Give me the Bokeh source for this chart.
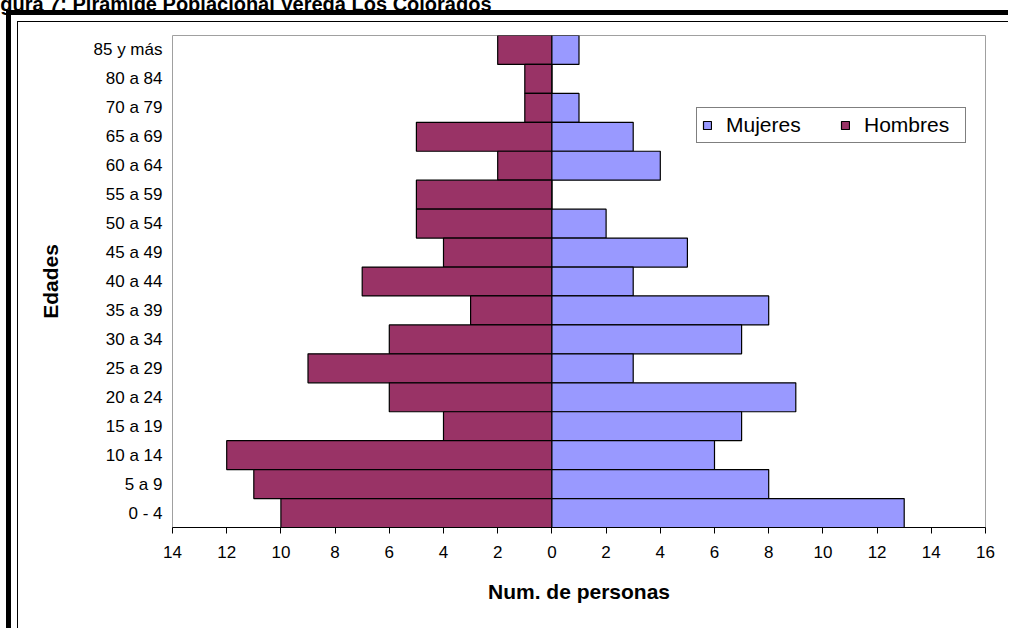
from bokeh.plotting import figure
from bokeh.models import (Range1d, FactorRange, FixedTicker, CustomJSTickFormatter,
                          Legend, LegendItem, ColumnDataSource)
from bokeh.embed import file_html
from bokeh.resources import INLINE

# ---- data (top to bottom as in the chart) ----
edades = ["85 y más", "80 a 84", "70 a 79", "65 a 69", "60 a 64", "55 a 59", "50 a 54",
          "45 a 49", "40 a 44", "35 a 39", "30 a 34", "25 a 29", "20 a 24", "15 a 19",
          "10 a 14", "5 a 9", "0 - 4"]
hombres = [2, 1, 1, 5, 2, 5, 5, 4, 7, 3, 6, 9, 6, 4, 12, 11, 10]
mujeres = [1, 0, 1, 3, 4, 0, 2, 5, 3, 8, 7, 3, 9, 7, 6, 8, 13]
x_ticks = [-14, -12, -10, -8, -6, -4, -2, 0, 2, 4, 6, 8, 10, 12, 14, 16]
titulo = "Figura 7: Pirámide Poblacional Vereda Los Colorados"
x_titulo = "Num. de personas"
y_titulo = "Edades"

FONT = "Liberation Sans"
C_H = "#993366"
C_M = "#9999FF"

src_h = ColumnDataSource(dict(age=edades, left=[-v for v in hombres], right=[0] * len(hombres)))
src_m = ColumnDataSource(dict(age=edades, left=[0] * len(mujeres), right=mujeres))

# decorative page frame (thick black frame + thin inner box) drawn as CSS backgrounds
frame_css = {
    "background-image": ",".join(["linear-gradient(#000,#000)"] * 4),
    "background-position": "6px 10px, 6px 10px, 17px 21px, 17px 21px",
    "background-size": "1002px 5px, 5px 618px, 1px 607px, 991px 1px",
    "background-repeat": "no-repeat",
}

p = figure(width=1008, height=628,
           y_range=FactorRange(factors=list(reversed(edades)), range_padding=0, factor_padding=0),
           x_range=Range1d(-14, 16),
           output_backend="svg", toolbar_location=None,
           min_border_left=172, min_border_right=23, min_border_top=35, min_border_bottom=101,
           styles=frame_css)

p.background_fill_color = "white"
p.border_fill_color = None
p.outline_line_color = "#a0a0a0"
p.outline_line_width = 1
p.xgrid.visible = False
p.ygrid.visible = False

rh = p.hbar(y="age", left="left", right="right", height=1.0, source=src_h,
            fill_color=C_H, line_color="black", line_width=1.2)
rm = p.hbar(y="age", left="left", right="right", height=1.0, source=src_m,
            fill_color=C_M, line_color="black", line_width=1.2)

xa = p.xaxis[0]
xa.ticker = FixedTicker(ticks=x_ticks)
xa.formatter = CustomJSTickFormatter(code="return Math.abs(tick).toString();")
xa.axis_line_color = "black"
xa.axis_line_width = 1
xa.major_tick_out = 6
xa.major_tick_in = 0
xa.minor_tick_out = 0
xa.minor_tick_in = 0
xa.major_tick_line_color = "black"
xa.major_label_standoff = 12
xa.major_label_text_font = FONT
xa.major_label_text_font_size = "17px"
xa.major_label_text_color = "black"
xa.axis_label = x_titulo
xa.axis_label_text_font = FONT
xa.axis_label_text_font_size = "21px"
xa.axis_label_text_font_style = "bold"
xa.axis_label_text_color = "black"
xa.axis_label_standoff = 19

ya = p.yaxis[0]
ya.axis_line_color = None
ya.major_tick_line_color = None
ya.minor_tick_line_color = None
ya.major_tick_out = 0
ya.major_tick_in = 0
ya.major_label_standoff = 10
ya.major_label_text_font = FONT
ya.major_label_text_font_size = "17px"
ya.major_label_text_color = "black"
ya.axis_label = y_titulo
ya.axis_label_text_font = FONT
ya.axis_label_text_font_size = "21px"
ya.axis_label_text_font_style = "bold"
ya.axis_label_text_color = "black"
ya.axis_label_standoff = 29

legend = Legend(items=[LegendItem(label="Mujeres", renderers=[rm]),
                       LegendItem(label="Hombres", renderers=[rh])],
                location=(524, 384), orientation="horizontal",
                border_line_color="black", border_line_width=1,
                padding=5, spacing=18, label_standoff=14, label_width=96,
                glyph_width=10, glyph_height=10, margin=0,
                label_text_font=FONT, label_text_font_size="21px",
                label_text_color="black", background_fill_color="white",
                background_fill_alpha=1)
p.add_layout(legend)

# figure caption: as in the source, only its lower part is inside the page
p.title.text = titulo + "\n \n "
p.title.text_font = FONT
p.title.text_font_size = "20px"
p.title.text_font_style = "bold"
p.title.text_color = "black"
p.title.align = "left"
p.title.vertical_align = "top"
p.title.offset = -190
try:
    p.title.standoff = -51
except Exception:
    pass

open("out.html", "w").write(file_html(p, INLINE))
